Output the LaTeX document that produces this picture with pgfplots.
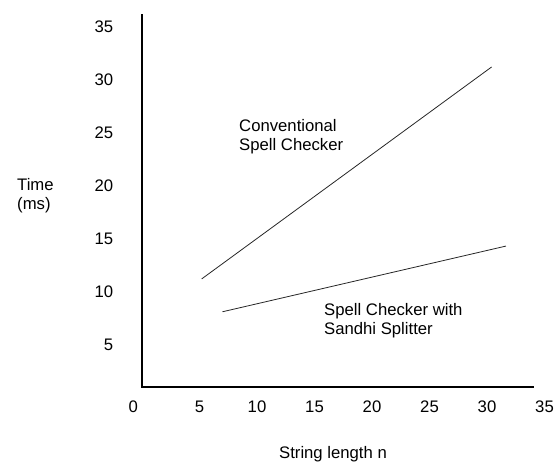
\documentclass[border=0pt]{standalone}
\usepackage{pgfplots}
\pgfplotsset{compat=1.18}
\usepackage{fontspec}
\setmainfont{Liberation Sans}
\begin{document}
\fontsize{16.7}{19}\selectfont
\begin{tikzpicture}[x=1pt,y=1pt]
\useasboundingbox (0,0) rectangle (559,-462);
\begin{axis}[
  at={(142pt,-387pt)}, anchor=south west,
  scale only axis, width=402.5pt, height=373pt,
  xmin=0, xmax=35, ymin=1, ymax=36.2,
  axis x line=bottom, axis y line=left,
  axis line style={line width=2.5pt, -},
  x axis line style={draw=none},
  xtick={0,5,...,35}, ytick={5,10,...,35},
  xticklabels={\makebox[10pt][r]{0\hspace{9pt}},5,10,15,20,25,30,35},
  major tick length=0pt, tick style={draw=none},
  /pgf/number format/assume math mode=true,
  yticklabel style={xshift=-23pt},
  xticklabel style={yshift=-8pt},
  clip=false,
]
\addplot[black!85, line width=0.8pt] coordinates {(5.19,11.2) (30.4,31.2)};
\addplot[black!85, line width=0.8pt] coordinates {(7.0,8.1) (31.65,14.3)};
\draw[line width=2.5pt, line cap=rect] (axis cs:0,1) -- (axis cs:34,1);
\end{axis}
\node[anchor=west, align=left, inner sep=0] at (17,-195.5) {Time\\(ms)};
\node[inner sep=0] at (333,-454) {String length n};
\node[anchor=west, align=left, inner sep=0] at (239,-136.5) {Conventional\\Spell Checker};
\node[anchor=west, align=left, inner sep=0] at (324,-321) {Spell Checker with\\Sandhi Splitter};
\end{tikzpicture}
\end{document}
